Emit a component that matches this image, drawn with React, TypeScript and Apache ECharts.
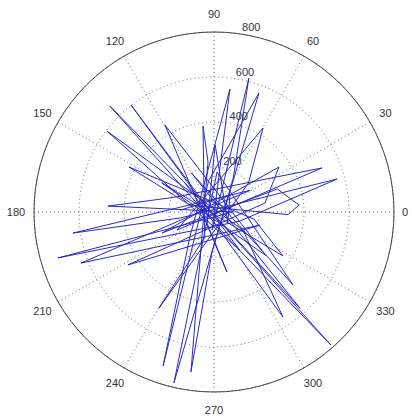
import React, { useEffect, useRef } from "react";
import * as echarts from "echarts";

// polar data: angle in degrees, radius values
const thetaDeg = [
  135, 134.5, 300, 311.3, 140, 127.8, 304, 142.9, 328, 303.3, 135, 311.8, 120, 317.3,
  85.7, 256.8, 60, 75.4, 264, 82.6, 225, 251.7, 100, 69.3, 267, 261.8, 96.8, 97.3,
  250, 240.2, 40, 59.7, 206, 22.2, 160, 176.8, 0, 196.4, 340, 15, 190, 188.5, 31, 201,
  344, 211.6, 10, 34.7, 202, 20, 4.7, 358, 164, 152.1, 350, 327.5, 150.9, 320, 119.4,
  282.2, 240, 89, 324, 47, 177,
];
const rho = [
  182, 660, 150, 787, 69, 602, 205, 596, 152, 558, 182, 573, 200, 478,
  178, 780, 170, 615, 80, 551, 150, 721, 140, 565, 182, 718, 224, 385,
  120, 492, 200, 432, 183, 518, 190, 472, 84, 723, 120, 566, 150, 634, 187, 633,
  212, 449, 230, 351, 249, 300, 379, 330, 111, 427, 180, 364, 265, 300, 444,
  273, 60, 298, 76, 104, 151,
];

const angleTicks = [0, 30, 60, 90, 120, 150, 180, 210, 240, 270, 300, 330];
const radiusTicks = [200, 400, 600, 800];

const CX = 214;
const CY = 212;
const R = 180;
const RMAX = 800;

export default function App() {
  const ref = useRef<HTMLDivElement>(null);
  useEffect(() => {
    if (!ref.current) return;
    const chart = echarts.init(ref.current, null, { renderer: "svg" });
    const data = thetaDeg.map((a, i) => [rho[i], a]);
    const font = "Liberation Sans, Arial, sans-serif";
    const graphics: any[] = [];
    angleTicks.forEach((a) => {
      const rad = (a * Math.PI) / 180;
      let x = CX + 198 * Math.cos(rad);
      if (x > 405) x = 405;
      graphics.push({
        type: "text",
        x,
        y: CY - 198 * Math.sin(rad),
        style: {
          text: String(a),
          fontSize: 11,
          fontFamily: font,
          fill: "#333",
          align: "center",
          verticalAlign: "middle",
        },
      });
    });
    const c82 = (82 * Math.PI) / 180;
    radiusTicks.forEach((v) => {
      const rp = (v / RMAX) * R;
      graphics.push({
        type: "text",
        x: CX + rp * Math.cos(c82) + 3,
        y: CY - rp * Math.sin(c82) - 1,
        style: {
          text: String(v),
          fontSize: 11,
          fontFamily: font,
          fill: "#333",
          align: "left",
          verticalAlign: "bottom",
        },
      });
    });
    chart.setOption({
      animation: false,
      backgroundColor: "#fff",
      polar: { center: [CX, CY], radius: R },
      angleAxis: {
        type: "value",
        min: 0,
        max: 360,
        interval: 30,
        startAngle: 0,
        clockwise: false,
        axisLine: { show: true, lineStyle: { color: "#444", width: 1 } },
        axisTick: { show: false },
        axisLabel: { show: false },
        splitLine: { show: true, lineStyle: { color: "#666", type: [1, 3], width: 1 } },
      },
      radiusAxis: {
        type: "value",
        min: 0,
        max: RMAX,
        interval: 200,
        axisLine: { show: false },
        axisTick: { show: false },
        axisLabel: { show: false },
        splitLine: { show: true, lineStyle: { color: "#666", type: [1, 3], width: 1 } },
      },
      graphic: graphics,
      series: [
        {
          type: "line",
          coordinateSystem: "polar",
          data,
          symbol: "none",
          lineStyle: { color: "#2a2ac4", width: 1 },
        },
      ],
    });
    return () => chart.dispose();
  }, []);
  return (
    <div
      ref={ref}
      style={{ position: "fixed", left: 0, top: 0, width: 412, height: 416 }}
    />
  );
}
